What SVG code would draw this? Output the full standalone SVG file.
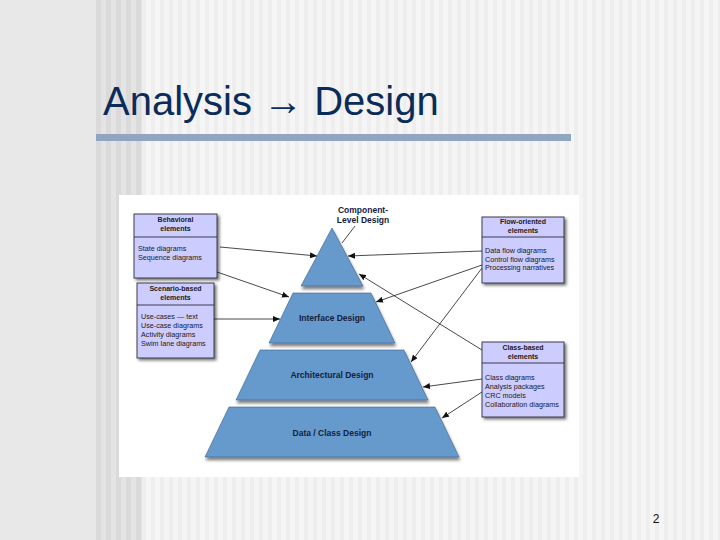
<svg xmlns="http://www.w3.org/2000/svg" width="720" height="540" viewBox="0 0 720 540">
<style>
.title{font-family:"Liberation Sans",Arial,sans-serif;font-size:40px;fill:#0b2c5a}
.hdr{font-family:"Liberation Sans",Arial,sans-serif;font-size:7px;font-weight:bold;fill:#1a1a1a;text-anchor:middle}
.body{font-family:"Liberation Sans",Arial,sans-serif;font-size:7.2px;fill:#1a1a1a}
.lyr{font-family:"Liberation Sans",Arial,sans-serif;font-size:8.5px;font-weight:bold;fill:#14213d;text-anchor:middle}
.box{fill:#ccccff;stroke:#2a2a3a;stroke-width:0.9}
.div{stroke:#2a2a3a;stroke-width:0.9}
.layer{fill:#6699cc;stroke:#3a5f8a;stroke-width:0.6}
.conn{stroke:#1a1a1a;stroke-width:0.8;fill:none}
</style>
<defs>
<pattern id="darkStripes" width="10" height="10" patternUnits="userSpaceOnUse" x="96">
<rect width="10" height="10" fill="#e4e4e4"/>
<rect x="0" width="5" height="10" fill="#dadada"/>
</pattern>
<pattern id="lightStripes" width="9" height="10" patternUnits="userSpaceOnUse" x="142">
<rect width="9" height="10" fill="#f5f5f5"/>
<rect x="0" width="4" height="10" fill="#eeeeee"/>
</pattern>
<filter id="shadow" x="-20%" y="-20%" width="150%" height="150%">
<feDropShadow dx="2" dy="2" stdDeviation="1.5" flood-color="#000" flood-opacity="0.55"/>
</filter>
<filter id="lshadow" x="-20%" y="-20%" width="140%" height="150%">
<feDropShadow dx="1" dy="3" stdDeviation="1.5" flood-color="#000" flood-opacity="0.5"/>
</filter>
<marker id="arrow" markerWidth="7" markerHeight="6" refX="7" refY="3" orient="auto" markerUnits="userSpaceOnUse">
<path d="M0,0 L7,3 L0,6 Z" fill="#111"/>
</marker>
</defs>

<!-- background -->
<rect x="0" y="0" width="720" height="540" fill="#e8e8e8"/>
<rect x="96" y="0" width="46" height="540" fill="url(#darkStripes)"/>
<rect x="142" y="0" width="578" height="540" fill="url(#lightStripes)"/>

<text class="title" x="103" y="115">Analysis → Design</text>
<rect x="96" y="134" width="475" height="7" fill="#8fa5c0"/>

<rect x="119" y="195" width="460" height="282" fill="#ffffff"/>

<!-- pyramid -->
<g id="component-level">
<polygon class="layer" points="332,228 363,286 301,286" filter="url(#lshadow)"/>
<text class="lyr" x="363" y="213">Component-</text>
<text class="lyr" x="363" y="223">Level Design</text>
</g>
<g id="interface-design">
<polygon class="layer" points="293,293 371,293 395,343 269,343" filter="url(#lshadow)"/>
<text class="lyr" x="332" y="321">Interface Design</text>
</g>
<g id="architectural-design">
<polygon class="layer" points="260,350 404,350 428,400 236,400" filter="url(#lshadow)"/>
<text class="lyr" x="332" y="378">Architectural Design</text>
</g>
<g id="data-class-design">
<polygon class="layer" points="229,407 435,407 459,457 205,457" filter="url(#lshadow)"/>
<text class="lyr" x="332" y="436">Data / Class Design</text>
</g>

<!-- analysis boxes -->
<g id="behavioral">
<rect class="box" x="134" y="214" width="83" height="64" filter="url(#shadow)"/>
<line class="div" x1="134" y1="237" x2="217" y2="237"/>
<text class="hdr" x="175.5" y="222">Behavioral</text>
<text class="hdr" x="175.5" y="231">elements</text>
<text class="body" x="138" y="251">State diagrams</text>
<text class="body" x="138" y="260">Sequence diagrams</text>
</g>
<g id="scenario-based">
<rect class="box" x="137" y="283" width="77" height="75" filter="url(#shadow)"/>
<line class="div" x1="137" y1="305" x2="214" y2="305"/>
<text class="hdr" x="175.5" y="291">Scenario-based</text>
<text class="hdr" x="175.5" y="300">elements</text>
<text class="body" x="141" y="319">Use-cases — text</text>
<text class="body" x="141" y="328">Use-case diagrams</text>
<text class="body" x="141" y="337">Activity diagrams</text>
<text class="body" x="141" y="346">Swim lane diagrams</text>
</g>
<g id="flow-oriented">
<rect class="box" x="482" y="217" width="82" height="66" filter="url(#shadow)"/>
<line class="div" x1="482" y1="237" x2="564" y2="237"/>
<text class="hdr" x="523" y="224">Flow-oriented</text>
<text class="hdr" x="523" y="233">elements</text>
<text class="body" x="485" y="253">Data flow diagrams</text>
<text class="body" x="485" y="261.5">Control flow diagrams</text>
<text class="body" x="485" y="270">Processing narratives</text>
</g>
<g id="class-based">
<rect class="box" x="482" y="342" width="82" height="75" filter="url(#shadow)"/>
<line class="div" x1="482" y1="363" x2="564" y2="363"/>
<text class="hdr" x="523" y="350">Class-based</text>
<text class="hdr" x="523" y="359">elements</text>
<text class="body" x="485" y="380">Class diagrams</text>
<text class="body" x="485" y="389">Analysis packages</text>
<text class="body" x="485" y="397.5">CRC models</text>
<text class="body" x="485" y="406.5">Collaboration diagrams</text>
</g>

<!-- connectors -->
<g id="connectors">
<line class="conn" x1="355" y1="226" x2="342" y2="243"/>
<line class="conn" x1="220" y1="247" x2="317" y2="256" marker-end="url(#arrow)"/>
<line class="conn" x1="217" y1="272" x2="289" y2="297" marker-end="url(#arrow)"/>
<line class="conn" x1="214" y1="319" x2="280" y2="319" marker-end="url(#arrow)"/>
<line class="conn" x1="482" y1="251" x2="348" y2="256" marker-end="url(#arrow)"/>
<line class="conn" x1="482" y1="265" x2="376" y2="302" marker-end="url(#arrow)"/>
<line class="conn" x1="482" y1="268" x2="411" y2="362" marker-end="url(#arrow)"/>
<line class="conn" x1="482" y1="350" x2="359" y2="274" marker-end="url(#arrow)"/>
<line class="conn" x1="482" y1="379" x2="423" y2="387" marker-end="url(#arrow)"/>
<line class="conn" x1="482" y1="392" x2="442" y2="418" marker-end="url(#arrow)"/>
</g>

<text x="656" y="523" font-family="Liberation Sans, Arial, sans-serif" font-size="12" fill="#111" text-anchor="middle">2</text>
</svg>
